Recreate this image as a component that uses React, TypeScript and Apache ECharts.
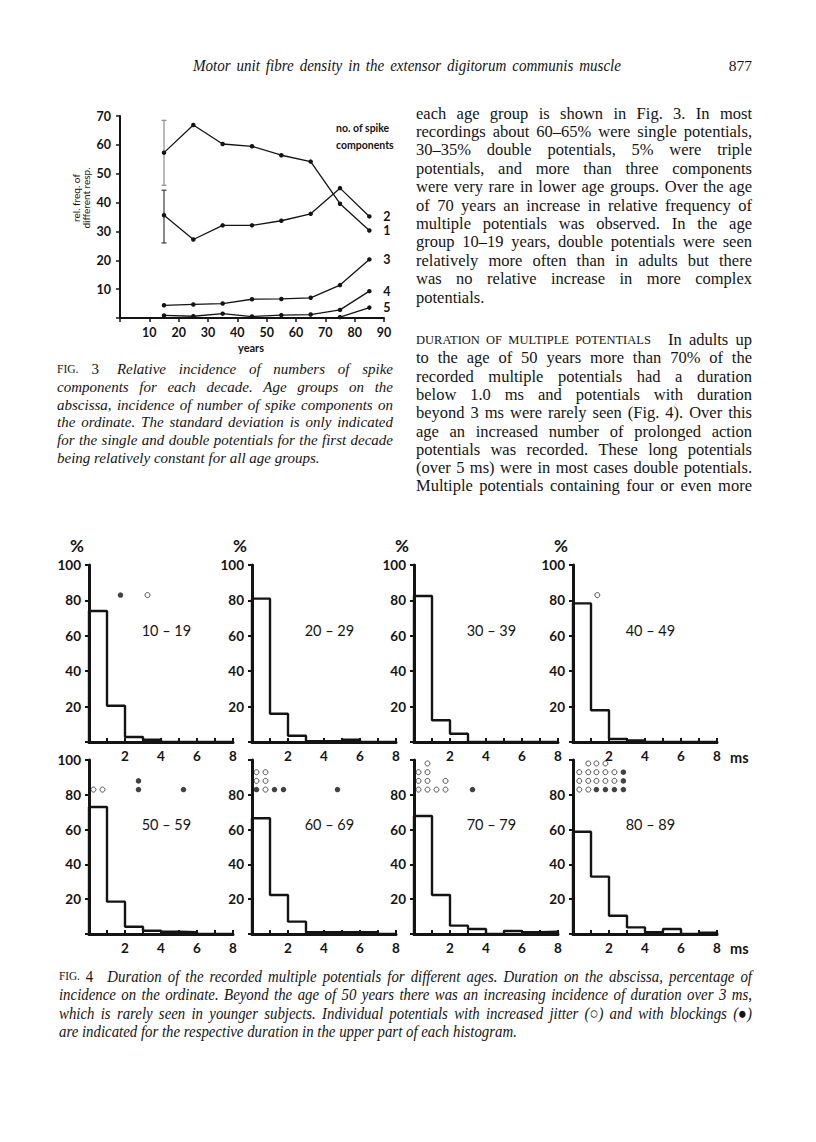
import React, { useEffect, useRef } from 'react';
import * as echarts from 'echarts';

// ---------- Fig. 3 data ----------
const ages = [15, 25, 35, 45, 55, 65, 75, 85];
const singleComp = [57.3, 66.9, 60.3, 59.5, 56.4, 54.2, 39.6, 30.3];
const doubleComp = [35.6, 27.2, 32.1, 32.1, 33.7, 36.1, 45.0, 35.2];
const tripleComp = [4.4, 4.7, 5.0, 6.5, 6.6, 7.0, 11.4, 20.3];
const quadComp = [0.9, 0.6, 1.5, 0.5, 1.0, 1.2, 2.8, 9.3];
const quintAges = [75, 85];
const quintComp = [0.3, 3.6];
const sdBars = [
  [15, 46.0, 68.5],
  [15, 26.0, 44.3],
];
const fig3XTicks = [10, 20, 30, 40, 50, 60, 70, 80, 90];

// ---------- Fig. 4 data (percent per 1 ms bin, 0..8 ms) ----------
const groupNames = ['10 – 19', '20 – 29', '30 – 39', '40 – 49', '50 – 59', '60 – 69', '70 – 79', '80 – 89'];
const bins10 = [74, 20.5, 2.8, 1.3, 0, 0, 0, 0];
const bins20 = [81, 16, 3.5, 0.4, 0.4, 1.3, 0, 0];
const bins30 = [82.5, 12.3, 4.7, 0, 0, 0, 0, 0];
const bins40 = [78.3, 17.9, 1.7, 0.9, 0, 0, 0, 0];
const bins50 = [73, 18.6, 4.2, 1.9, 1.3, 1.0, 0, 0];
const bins60 = [66.5, 22.4, 7.1, 1.0, 1.0, 1.0, 1.0, 0];
const bins70 = [67.8, 22.4, 4.8, 2.9, 0, 1.7, 1.0, 1.3];
const bins80 = [58.8, 33, 10.5, 3.8, 1.1, 2.9, 0, 0.7];
const allBins = [bins10, bins20, bins30, bins40, bins50, bins60, bins70, bins80];

// increased jitter (open) and blockings (filled): [duration ms, plotted height]
const jit10 = [[3.25, 83]];
const blk10 = [[1.75, 83]];
const jit20: number[][] = [];
const blk20: number[][] = [];
const jit30: number[][] = [];
const blk30: number[][] = [];
const jit40 = [[1.35, 83]];
const blk40: number[][] = [];
const jit50 = [[0.25, 83], [0.75, 83]];
const blk50 = [[2.75, 83], [2.75, 88], [5.25, 83]];
const jit60 = [[0.25, 88], [0.25, 93], [0.75, 83], [0.75, 88], [0.75, 93]];
const blk60 = [[0.25, 83], [1.25, 83], [1.75, 83], [4.75, 83]];
const jit70 = [[0.25, 83], [0.25, 88], [0.25, 93], [0.75, 83], [0.75, 88], [0.75, 93], [0.75, 98], [1.25, 83], [1.75, 83], [1.75, 88]];
const blk70 = [[3.25, 83]];
const jit80 = [[0.35, 83], [0.35, 88], [0.35, 93], [0.85, 83], [0.85, 88], [0.85, 93], [0.85, 98], [1.3, 88], [1.3, 93], [1.3, 98], [1.8, 88], [1.8, 93], [1.8, 98], [2.3, 88], [2.3, 93]];
const blk80 = [[1.3, 83], [1.8, 83], [2.3, 83], [2.8, 83], [2.8, 88], [2.8, 93]];
const allJit = [jit10, jit20, jit30, jit40, jit50, jit60, jit70, jit80];
const allBlk = [blk10, blk20, blk30, blk40, blk50, blk60, blk70, blk80];

// ---------- page text ----------
type Seg = { t: string; size?: number; italic?: boolean; bold?: boolean; gap?: number };
const headerText = 'Motor unit fibre density in the extensor digitorum communis muscle';
const pageNumber = '877';
const para1: (string | Seg[])[] = [
  'each age group is shown in Fig. 3. In most',
  'recordings about 60–65% were single potentials,',
  '30–35% double potentials, 5% were triple',
  'potentials, and more than three components',
  'were very rare in lower age groups. Over the age',
  'of 70 years an increase in relative frequency of',
  'multiple potentials was observed. In the age',
  'group 10–19 years, double potentials were seen',
  'relatively more often than in adults but there',
  'was no relative increase in more complex',
  'potentials.',
];
const para2: (string | Seg[])[] = [
  [{ t: 'DURATION OF MULTIPLE POTENTIALS', size: 12.5 }, { t: 'In adults up', gap: 14 }],
  'to the age of 50 years more than 70% of the',
  'recorded multiple potentials had a duration',
  'below 1.0 ms and potentials with duration',
  'beyond 3 ms were rarely seen (Fig. 4). Over this',
  'age an increased number of prolonged action',
  'potentials was recorded. These long potentials',
  '(over 5 ms) were in most cases double potentials.',
  'Multiple potentials containing four or even more',
];
const cap3: (string | Seg[])[] = [
  [{ t: 'FIG.', size: 11.5, italic: false }, { t: '3', italic: false, gap: 4 }, { t: 'Relative incidence of numbers of spike', gap: 9 }],
  'components for each decade. Age groups on the',
  'abscissa, incidence of number of spike components on',
  'the ordinate. The standard deviation is only indicated',
  'for the single and double potentials for the first decade',
  'being relatively constant for all age groups.',
];
const cap4: (string | Seg[])[] = [
  [{ t: 'FIG.', size: 12.5, italic: false }, { t: '4', italic: false, gap: 4 }, { t: 'Duration of the recorded multiple potentials for different ages. Duration on the abscissa, percentage of', gap: 13 }],
  'incidence on the ordinate. Beyond the age of 50 years there was an increasing incidence of duration over 3 ms,',
  'which is rarely seen in younger subjects. Individual potentials with increased jitter (○) and with blockings (●)',
  'are indicated for the respective duration in the upper part of each histogram.',
];

const SERIF_NAME = 'Liberation Serif';
const SANS = 'Lato';
const INK = '#141414';

let _ctx: CanvasRenderingContext2D | null = null;
function textWidth(t: string, size: number, italic: boolean, bold: boolean): number {
  if (!_ctx) _ctx = document.createElement('canvas').getContext('2d');
  _ctx!.font = `${italic ? 'italic ' : ''}${bold ? 'bold ' : ''}${size}px '${SERIF_NAME}', serif`;
  return _ctx!.measureText(t).width;
}

type Tok = { w: string; size: number; italic: boolean; bold: boolean; gap: number; width: number };

function paragraph(
  lines: (string | Seg[])[],
  o: {
    x0: number;
    x1: number;
    y0: number;
    lh: number;
    size: number;
    italic: boolean;
    justifyLast?: boolean;
    condense?: number;
  }
) {
  const target = o.x1 - o.x0;
  const n = lines.length;
  const base = o.condense ?? 1;
  const els: any[] = [];
  lines.forEach((line, i) => {
    const segs: Seg[] = typeof line === 'string' ? [{ t: line }] : line;
    const toks: Tok[] = [];
    segs.forEach((s, si) => {
      const size = s.size ?? o.size;
      const italic = s.italic ?? o.italic;
      const bold = !!s.bold;
      const space = textWidth(' ', size, italic, bold);
      s.t.split(' ').forEach((w, wi) => {
        const gap = wi === 0 ? (si === 0 ? 0 : s.gap ?? space) : space;
        toks.push({ w, size, italic, bold, gap, width: textWidth(w, size, italic, bold) });
      });
    });
    const natural = toks.reduce((a, t) => a + t.gap + t.width, 0) * base;
    const justify = i < n - 1 || !!o.justifyLast;
    let scale = base;
    let extra = 0;
    if (natural > target) {
      scale = (base * target) / natural;
    } else if (justify && toks.length > 1) {
      extra = (target - natural) / (toks.length - 1);
    }
    let cx = o.x0;
    toks.forEach((t, ti) => {
      if (ti > 0) cx += t.gap * scale + extra;
      els.push({
        type: 'text',
        silent: true,
        x: cx,
        y: o.y0 + i * o.lh,
        scaleX: scale,
        style: {
          text: t.w,
          fontFamily: SERIF_NAME,
          fontSize: t.size,
          fontStyle: t.italic ? 'italic' : 'normal',
          fontWeight: t.bold ? 'bold' : 'normal',
          fill: INK,
          textAlign: 'left',
          textVerticalAlign: 'middle',
        },
      });
      cx += t.width * scale;
    });
  });
  return els;
}

// layout of Fig. 4 panels
const colX = [89, 252, 414, 573];
const rowTop = [565, 760];
const rowH = [177, 174];
const panelW = 144;

function sansText(x: number, y: number, text: string, size: number, bold: boolean, align = 'left', rotation = 0) {
  return {
    type: 'text',
    silent: true,
    x,
    y,
    rotation,
    style: {
      text,
      fontFamily: SANS,
      fontSize: size,
      fontWeight: bold ? 'bold' : 'normal',
      fill: INK,
      textAlign: align,
      textVerticalAlign: 'middle',
    },
  };
}

export default function App() {
  const ref = useRef<HTMLDivElement>(null);

  useEffect(() => {
    if (!ref.current) return;
    const chart = echarts.init(ref.current, undefined, { renderer: 'svg' });

    const grids: any[] = [
      { left: 120, top: 116, width: 264, height: 202, containLabel: false, outerBoundsMode: 'none' },
    ];
    const xAxes: any[] = [
      {
        gridIndex: 0,
        type: 'value',
        min: 0,
        max: 90,
        interval: 10,
        splitLine: { show: false },
        axisLine: { show: true, lineStyle: { color: INK, width: 2 } },
        axisTick: { show: true, inside: false, length: 4, lineStyle: { color: INK, width: 1.5 } },
        axisLabel: {
          margin: 8,
          color: INK,
          fontFamily: SANS,
          fontWeight: 'bold',
          fontSize: 12.5,
          showMinLabel: true,
          showMaxLabel: true,
          formatter: (v: number) => (fig3XTicks.includes(v) ? String(v) : ''),
        },
      },
    ];
    const yAxes: any[] = [
      {
        gridIndex: 0,
        type: 'value',
        min: 0,
        max: 70,
        interval: 10,
        splitLine: { show: false },
        axisLine: { show: true, lineStyle: { color: INK, width: 2 } },
        axisTick: { show: true, inside: false, length: 4, lineStyle: { color: INK, width: 1.5 } },
        axisLabel: {
          margin: 9,
          color: INK,
          fontFamily: SANS,
          fontWeight: 'bold',
          fontSize: 12.5,
          showMaxLabel: true,
          formatter: (v: number) => (v === 0 ? '' : String(v)),
        },
      },
    ];

    const lineSeries = (data: number[][], label: string) => ({
      type: 'line',
      xAxisIndex: 0,
      yAxisIndex: 0,
      data,
      symbol: 'circle',
      symbolSize: 4.5,
      clip: false,
      silent: true,
      lineStyle: { color: INK, width: 1.3 },
      itemStyle: { color: INK },
      endLabel: {
        show: true,
        formatter: label,
        distance: 14,
        color: INK,
        fontFamily: SANS,
        fontWeight: 'bold',
        fontSize: 12.5,
      },
    });

    const series: any[] = [
      lineSeries(ages.map((a, i) => [a, singleComp[i]]), '1'),
      lineSeries(ages.map((a, i) => [a, doubleComp[i]]), '2'),
      lineSeries(ages.map((a, i) => [a, tripleComp[i]]), '3'),
      lineSeries(ages.map((a, i) => [a, quadComp[i]]), '4'),
      lineSeries(quintAges.map((a, i) => [a, quintComp[i]]), '5'),
      {
        type: 'custom',
        xAxisIndex: 0,
        yAxisIndex: 0,
        data: sdBars,
        encode: { x: 0, y: [1, 2] },
        silent: true,
        renderItem: (params: any, api: any) => {
          const x = api.value(0);
          const lo = api.value(1);
          const hi = api.value(2);
          const a = api.coord([x, hi]);
          const b = api.coord([x, lo]);
          const col = params.dataIndex === 0 ? '#8c8c8c' : '#3a3a3a';
          const st = { stroke: col, lineWidth: 1.2 };
          return {
            type: 'group',
            children: [
              { type: 'line', shape: { x1: a[0], y1: a[1], x2: b[0], y2: b[1] }, style: st },
              { type: 'line', shape: { x1: a[0] - 2.5, y1: a[1], x2: a[0] + 2.5, y2: a[1] }, style: st },
              { type: 'line', shape: { x1: b[0] - 2.5, y1: b[1], x2: b[0] + 2.5, y2: b[1] }, style: st },
            ],
          };
        },
      },
    ];

    const graphics: any[] = [];

    // Fig. 4 panels
    for (let k = 0; k < 8; k++) {
      const r = Math.floor(k / 4);
      const c = k % 4;
      const gi = k + 1;
      grids.push({
        left: colX[c],
        top: rowTop[r],
        width: panelW,
        height: rowH[r],
        containLabel: false,
        outerBoundsMode: 'none',
      });
      xAxes.push({
        gridIndex: gi,
        type: 'value',
        min: 0,
        max: 8,
        interval: 1,
        splitLine: { show: false },
        axisLine: { show: true, lineStyle: { color: INK, width: 3 } },
        axisTick: { show: true, inside: true, length: 4, lineStyle: { color: INK, width: 2 } },
        axisLabel: {
          margin: 7,
          color: INK,
          fontFamily: SANS,
          fontWeight: 'bold',
          fontSize: 13.5,
          showMinLabel: true,
          showMaxLabel: true,
          formatter: (v: number) => (v > 0 && v % 2 === 0 ? String(v) : ''),
        },
      });
      yAxes.push({
        gridIndex: gi,
        type: 'value',
        min: 0,
        max: 100,
        interval: 20,
        splitLine: { show: false },
        axisLine: { show: true, lineStyle: { color: INK, width: 3 } },
        axisTick: { show: true, inside: false, length: 4, lineStyle: { color: INK, width: 2 } },
        axisLabel: {
          margin: 8,
          color: INK,
          fontFamily: SANS,
          fontWeight: 'bold',
          fontSize: 13.5,
          showMaxLabel: true,
          formatter: (v: number) => (v === 0 || (k > 4 && v === 100) ? '' : String(v)),
        },
      });
      const b = allBins[k];
      series.push({
        type: 'line',
        xAxisIndex: gi,
        yAxisIndex: gi,
        step: 'end',
        symbol: 'none',
        clip: false,
        silent: true,
        z: 3,
        data: [[0, 0], ...b.map((v, i) => [i, v]), [8, 0]],
        lineStyle: { color: INK, width: 2.4 },
      });
      if (allJit[k].length) {
        series.push({
          type: 'scatter',
          xAxisIndex: gi,
          yAxisIndex: gi,
          data: allJit[k],
          symbol: 'circle',
          symbolSize: 5,
          silent: true,
          itemStyle: { color: '#ffffff', borderColor: '#2a2a2a', borderWidth: 1 },
        });
      }
      if (allBlk[k].length) {
        series.push({
          type: 'scatter',
          xAxisIndex: gi,
          yAxisIndex: gi,
          data: allBlk[k],
          symbol: 'circle',
          symbolSize: 5.5,
          silent: true,
          itemStyle: { color: INK },
        });
      }
      graphics.push(
        sansText(colX[c] + (4.3 / 8) * panelW, rowTop[r] + ((100 - 63) / 100) * rowH[r], groupNames[k], 14.5, false, 'center')
      );
      if (r === 0) graphics.push(sansText(colX[c] - 12, 545, '%', 17, true, 'center'));
    }
    graphics.push(sansText(730, 757, 'ms', 14.5, true), sansText(730, 948, 'ms', 14.5, true));

    // Fig. 3 annotations
    graphics.push(
      sansText(336, 128, 'no. of spike', 10.5, true),
      sansText(336, 145, 'components', 10.5, true),
      sansText(251, 347, 'years', 11, true, 'center'),
      sansText(76, 198, 'rel. freq. of', 10, false, 'center', Math.PI / 2),
      sansText(86, 198, 'different resp.', 10, false, 'center', Math.PI / 2)
    );

    // page text
    graphics.push(...paragraph([headerText], { x0: 193, x1: 621, y0: 65, lh: 18, size: 16, italic: true, justifyLast: true, condense: 0.94 }));
    graphics.push({
      type: 'text',
      silent: true,
      x: 752,
      y: 65,
      style: {
        text: pageNumber,
        fontFamily: SERIF_NAME,
        fontSize: 15.5,
        fill: INK,
        textAlign: 'right',
        textVerticalAlign: 'middle',
      },
    });
    graphics.push(...paragraph(para1, { x0: 416, x1: 752, y0: 113, lh: 18.4, size: 16.5, italic: false }));
    graphics.push(...paragraph(para2, { x0: 416, x1: 752, y0: 339.5, lh: 18.3, size: 16.5, italic: false, justifyLast: true }));
    graphics.push(...paragraph(cap3, { x0: 57, x1: 393, y0: 369, lh: 17.8, size: 15, italic: true }));
    graphics.push(...paragraph(cap4, { x0: 59, x1: 752, y0: 976, lh: 18.5, size: 16.5, italic: true, condense: 0.9 }));

    chart.setOption({
      animation: false,
      backgroundColor: '#ffffff',
      grid: grids,
      xAxis: xAxes,
      yAxis: yAxes,
      series,
      graphic: { elements: graphics },
    });

    return () => {
      chart.dispose();
    };
  }, []);

  return (
    <div
      ref={ref}
      style={{ position: 'absolute', left: 0, top: 0, width: 816, height: 1142, background: '#ffffff' }}
    />
  );
}
